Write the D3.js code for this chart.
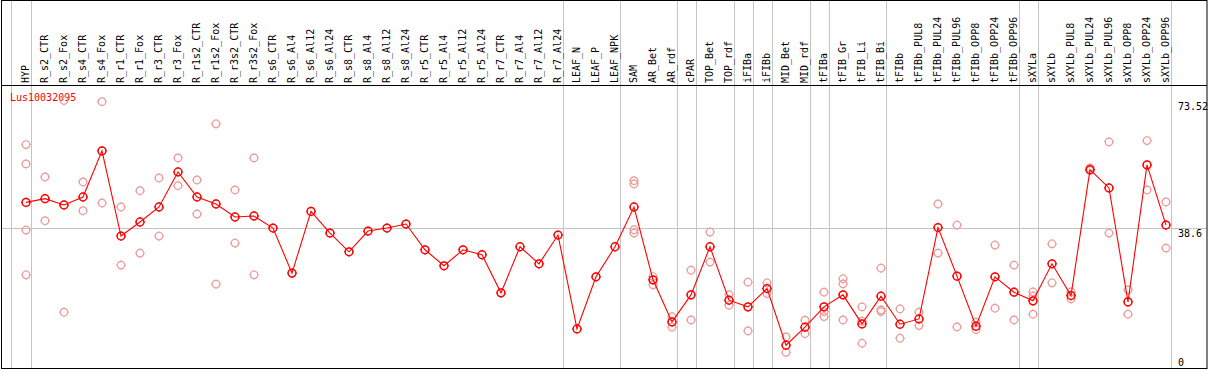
<!DOCTYPE html>
<html>
<head>
<meta charset="utf-8">
<script src="https://cdn.jsdelivr.net/npm/d3@7"></script>
<style>
  body { margin: 0; background: #fff; }
  text { font-family: "DejaVu Sans Mono", monospace; font-size: 10px; }
</style>
</head>
<body>
<div id="chart"></div>
<script>
const geneLabel = "Lus10032095";

const categories = [
  "HYP", "R_s2_CTR", "R_s2_Fox", "R_s4_CTR", "R_s4_Fox", "R_r1_CTR", "R_r1_Fox",
  "R_r3_CTR", "R_r3_Fox", "R_r1s2_CTR", "R_r1s2_Fox", "R_r3s2_CTR", "R_r3s2_Fox",
  "R_s6_CTR", "R_s6_Al4", "R_s6_Al12", "R_s6_Al24", "R_s8_CTR", "R_s8_Al4", "R_s8_Al12",
  "R_s8_Al24", "R_r5_CTR", "R_r5_Al4", "R_r5_Al12", "R_r5_Al24", "R_r7_CTR", "R_r7_Al4",
  "R_r7_Al12", "R_r7_Al24", "LEAF_N", "LEAF_P", "LEAF_NPK", "SAM", "AR_Bet", "AR_rdf",
  "cPAR", "TOP_Bet", "TOP_rdf", "iFIBa", "iFIBb", "MID_Bet", "MID_rdf", "tFIBa",
  "tFIB_Gr", "tFIB_Li", "tFIB_Bi", "tFIBb", "tFIBb_PUL8", "tFIBb_PUL24", "tFIBb_PUL96",
  "tFIBb_OPP8", "tFIBb_OPP24", "tFIBb_OPP96", "sXYLa", "sXYLb", "sXYLb_PUL8",
  "sXYLb_PUL24", "sXYLb_PUL96", "sXYLb_OPP8", "sXYLb_OPP24", "sXYLb_OPP96"
];

// last sample of every tissue group (a grey rule is drawn after it)
const groupEnds = [
  "HYP", "R_r7_Al24", "LEAF_NPK", "AR_rdf", "cPAR", "TOP_rdf", "iFIBa", "iFIBb",
  "MID_rdf", "tFIBa", "tFIB_Bi", "tFIBb_OPP96", "sXYLa", "sXYLb_OPP96"
];

const meanValues = [
  45.52, 46.54, 44.80, 47.00, 59.67, 36.27, 40.12, 44.25, 53.89, 47.00, 45.08, 41.50, 41.77,
  38.47, 26.08, 43.04, 37.09, 31.94, 37.64, 38.47, 39.57, 32.49, 28.09, 32.49, 31.12,
  20.65, 33.32, 28.64, 36.54, 10.74, 25.06, 33.32, 44.25, 24.23, 12.67, 20.10, 33.32,
  18.64, 16.80, 21.84, 6.25, 11.21, 16.80, 20.10, 12.12, 19.74, 12.03, 13.49, 38.60,
  25.25, 11.48, 25.06, 20.84, 18.45, 28.64, 19.91, 54.52, 49.48, 18.17, 55.82, 39.29
];

const replicateValues = [
  [61.41, 56.09, 37.92, 25.61], [52.51, 40.48], [73.52, 15.34], [51.13, 43.23],
  [73.2, 45.35], [44.25, 28.28], [48.74, 31.58], [52.24, 36.27], [57.74, 50.12],
  [51.69, 42.32], [67.11, 23.05], [48.93, 34.34], [57.74, 25.61],
  [], [], [], [], [], [], [], [], [], [], [], [], [], [], [], [],
  [], [], [],
  [51.49, 50.58, 38.00, 37.09], [25.14, 22.86], [14.13, 11.21],
  [26.90, 13.22], [37.37, 29.11], [20.18, 17.27], [23.60, 10.19], [23.41, 20.46],
  [8.54, 4.32], [13.13, 9.44], [20.84, 15.50, 14.13],
  [24.51, 23.13, 13.22], [16.80, 12.86, 6.80], [27.45, 15.97, 15.50],
  [16.25, 8.18], [15.34, 11.65], [45.08, 31.58], [39.29, 11.29],
  [12.58, 10.55], [33.79, 16.44], [28.28, 13.22],
  [20.93, 19.83, 14.79], [34.14, 23.41], [20.93, 19.00], [54.99, 54.3],
  [62.15, 37.09], [21.48, 14.79], [62.51, 48.93], [45.63, 32.96]
];

const yTicks = [0, 38.6, 73.52];
const yTickLabels = ["0", "38.6", "73.52"];

const W = 1209, H = 370;
const headerY = 85, bottomY = 368, rightX = 1207;
const mainColor = "#ff0000", repColor = "#ec9a9a", gridColor = "#c4c4c4";

const svg = d3.select("#chart").append("svg")
  .attr("width", W).attr("height", H);

const x = d3.scalePoint().domain(categories).range([26, 1166]);
const y = d3.scaleLinear().domain([0, 73.52]).range([368, 100.5]);

// grey group separators, full height
const sepX = [x(categories[0]) - 15.3].concat(groupEnds.map(c => x(c) + 4.5));
svg.selectAll(".sep").data(sepX).enter().append("line")
  .attr("x1", d => Math.round(d) + 0.5).attr("x2", d => Math.round(d) + 0.5)
  .attr("y1", 0).attr("y2", bottomY)
  .attr("stroke", gridColor).attr("stroke-width", 1);

// horizontal reference at the middle tick
svg.append("line")
  .attr("x1", 1).attr("x2", rightX)
  .attr("y1", Math.round(y(38.6)) + 0.5).attr("y2", Math.round(y(38.6)) + 0.5)
  .attr("stroke", gridColor);

// frame + header rule
svg.append("rect")
  .attr("x", 1.5).attr("y", 0.5).attr("width", rightX - 1.5).attr("height", bottomY)
  .attr("fill", "none").attr("stroke", "#000");
svg.append("line")
  .attr("x1", 1).attr("x2", rightX).attr("y1", headerY + 0.5).attr("y2", headerY + 0.5)
  .attr("stroke", "#000");

// rotated sample names
svg.selectAll(".cat").data(categories).enter().append("text")
  .attr("transform", d => `translate(${x(d) + 3},${headerY - 2}) rotate(-90)`)
  .attr("fill", "#000")
  .text(d => d);

// y labels on the right
svg.selectAll(".ylab").data(yTicks).enter().append("text")
  .attr("x", 1178)
  .attr("y", (d, i) => i === 0 ? bottomY - 2 : y(d) + 9)
  .attr("fill", "#000")
  .text((d, i) => yTickLabels[i]);

svg.append("text")
  .attr("x", 10).attr("y", 101)
  .attr("fill", mainColor)
  .text(geneLabel);

function marker(g, r) {
  g.append("circle").attr("r", r);
  g.append("path").attr("stroke-width", 1).attr("d",
    `M0,${-r - 1}V${-r}M0,${r}V${r + 1}M${-r - 1},0H${-r}M${r},0H${r + 1}`);
}

// replicate dots
const reps = [];
replicateValues.forEach((vals, i) => vals.forEach(v => reps.push({ c: categories[i], v })));
svg.selectAll(".rep").data(reps).enter().append("g")
  .attr("transform", d => `translate(${x(d.c)},${y(d.v)})`)
  .attr("fill", "none").attr("stroke", repColor).attr("stroke-width", 1.2)
  .each(function () { marker(d3.select(this), 3.8); });

// mean line
const line = d3.line().x((d, i) => x(categories[i])).y(d => y(d));
svg.append("path").datum(meanValues)
  .attr("d", line)
  .attr("fill", "none").attr("stroke", mainColor).attr("stroke-width", 1.1);

svg.selectAll(".mean").data(meanValues).enter().append("g")
  .attr("transform", (d, i) => `translate(${x(categories[i])},${y(d)})`)
  .attr("fill", "none").attr("stroke", mainColor).attr("stroke-width", 1.5)
  .each(function () { marker(d3.select(this), 3.9); });
</script>
</body>
</html>
